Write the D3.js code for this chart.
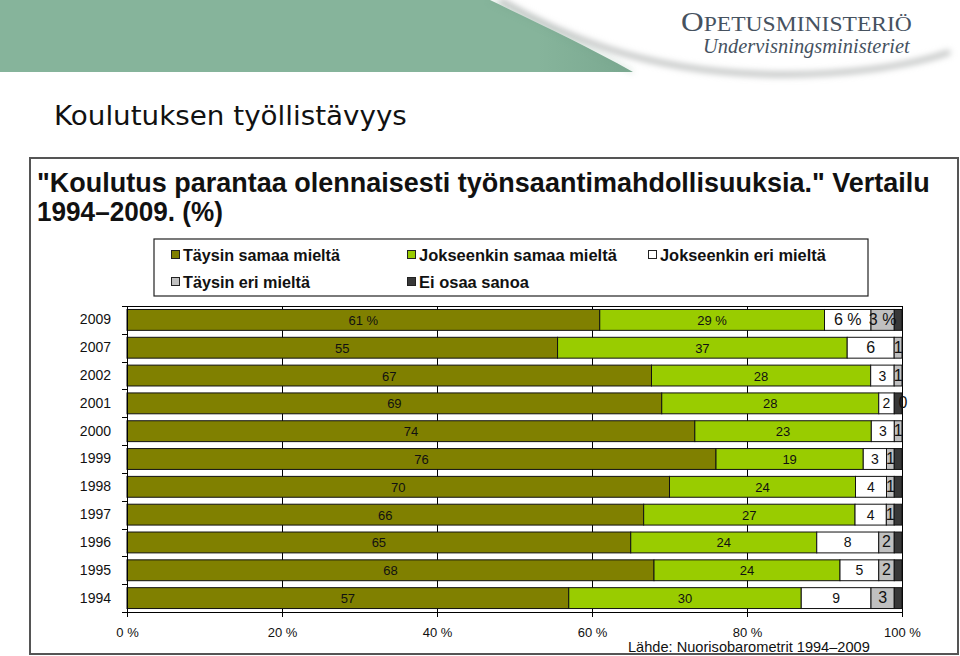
<!DOCTYPE html>
<html><head><meta charset="utf-8">
<script src="https://cdn.jsdelivr.net/npm/d3@7/dist/d3.min.js"></script>
<style>
html,body{margin:0;padding:0;background:#fff;}
svg{display:block;}
</style></head>
<body>
<svg id="c" width="960" height="656"></svg>
<script>
const years = ["2009","2007","2002","2001","2000","1999","1998","1997","1996","1995","1994"];
const seriesNames = ["Täysin samaa mieltä","Jokseenkin samaa mieltä","Jokseenkin eri mieltä","Täysin eri mieltä","Ei osaa sanoa"];
const taysinSamaa     = [61,55,67,69,74,76,70,66,65,68,57];
const jokseenkinSamaa = [29,37,28,28,23,19,24,27,24,24,30];
const jokseenkinEri   = [6,6,3,2,3,3,4,4,8,5,9];
const taysinEri       = [3,1,1,0,1,1,1,1,2,2,3];
const eiOsaa          = [1,0,0,1,0,1,1,1,1,1,1];
const xTicks = [0,0.2,0.4,0.6,0.8,1];
const pageTitle = "Koulutuksen työllistävyys";
const titleLines = ["\"Koulutus parantaa olennaisesti työnsaantimahdollisuuksia.\" Vertailu","1994–2009. (%)"];
const sourceText = "Lähde: Nuorisobarometrit 1994–2009";
const colors = ["#808000","#99cc00","#ffffff","#c0c0c0","#383838"];

const svg = d3.select("#c");
const sans = "'Liberation Sans', Arial, sans-serif";
const narrow = "'Liberation Sans Narrow','Arial Narrow','Liberation Sans',Arial,sans-serif";

// fit a text to a target width by horizontal scaling
function fitText(sel, x0, y0, targetW){
  const w = sel.node().getComputedTextLength();
  const k = w > 0 ? targetW / w : 1;
  sel.attr("x",0).attr("y",0).attr("transform",`translate(${x0},${y0}) scale(${k},1)`);
  return sel;
}

// ---- header ----
const defs = svg.append("defs");
const blur = defs.append("filter").attr("id","blur").attr("x","-10%").attr("y","-50%").attr("width","120%").attr("height","200%");
blur.append("feGaussianBlur").attr("stdDeviation",3);
const gg = defs.append("linearGradient").attr("id","gband").attr("x1","0").attr("x2","1").attr("y1","0").attr("y2","0");
gg.append("stop").attr("offset","0%").attr("stop-color","#86b49b");
gg.append("stop").attr("offset","85%").attr("stop-color","#86b49b");
gg.append("stop").attr("offset","100%").attr("stop-color","#7aa890");

svg.append("path")
  .attr("d","M500,0 C560,35 640,70 760,74 C840,77 910,66 950,52")
  .attr("fill","none").attr("stroke","#b9bcbb").attr("stroke-width",5).attr("filter","url(#blur)");
svg.append("path")
  .attr("d","M0,0 L490,0 C535,22 585,45 633,72 L0,72 Z")
  .attr("fill","url(#gband)");
svg.append("path")
  .attr("d","M490,0 C535,22 585,45 633,72")
  .attr("fill","none").attr("stroke","#6f9c84").attr("stroke-width",2).attr("opacity",0.5).attr("filter","url(#blur)");

const logo = svg.append("text")
  .attr("font-family","'Liberation Serif','DejaVu Serif',serif").attr("fill","#46525f");
logo.append("tspan").attr("font-size",28).text("O");
logo.append("tspan").attr("font-size",21).text("PETUSMINISTERIÖ");
fitText(logo, 681, 31, 231);
const logo2 = svg.append("text")
  .attr("font-family","'Liberation Serif','DejaVu Serif',serif").attr("font-style","italic")
  .attr("font-size",21).attr("fill","#46525f")
  .text("Undervisningsministeriet");
fitText(logo2, 703, 53, 207);

const pt = svg.append("text")
  .attr("font-family","'DejaVu Sans',Verdana,sans-serif").attr("font-size",26).attr("fill","#111")
  .text(pageTitle);
fitText(pt, 54, 125, 353);

// ---- outer box ----
svg.append("rect").attr("x",30).attr("y",158).attr("width",928).attr("height",496)
  .attr("fill","#fff").attr("stroke","#555").attr("stroke-width",2);

const t1 = svg.append("text")
  .attr("font-family",narrow).attr("font-size",28).attr("font-weight","bold").attr("fill","#111")
  .text(titleLines[0]);
fitText(t1, 37, 192, 893);
const t2 = svg.append("text")
  .attr("font-family",narrow).attr("font-size",28).attr("font-weight","bold").attr("fill","#111")
  .text(titleLines[1]);
fitText(t2, 37, 221, 186);

// ---- legend ----
svg.append("rect").attr("x",154).attr("y",239).attr("width",714).attr("height",57)
  .attr("fill","#fff").attr("stroke","#222").attr("stroke-width",1.2);
const legPos = [[171,261,157],[407,261,198],[648,261,166],[171,288,127],[407,288,110]];
seriesNames.forEach((n,i)=>{
  const [lx,ly,tw] = legPos[i];
  svg.append("rect").attr("x",lx+0.5).attr("y",ly-10.5).attr("width",8).attr("height",8)
    .attr("fill",colors[i]).attr("stroke","#222").attr("stroke-width",1);
  const lt = svg.append("text")
    .attr("font-family",narrow).attr("font-size",16).attr("font-weight","bold").attr("fill","#111")
    .text(n);
  fitText(lt, lx+12, ly, tw);
});

// ---- chart ----
const x = d3.scaleLinear().domain([0,1]).range([127,902]);
const y = d3.scaleBand().domain(years).range([306,612]).paddingInner(0.25).paddingOuter(0.125);

const rows = years.map((yr,i)=>({year:yr, s0:taysinSamaa[i], s1:jokseenkinSamaa[i], s2:jokseenkinEri[i], s3:taysinEri[i], s4:eiOsaa[i]}));
const keys = ["s0","s1","s2","s3","s4"];
const stacked = d3.stack().keys(keys).offset(d3.stackOffsetExpand)(rows);

svg.append("line").attr("x1",x(0)).attr("x2",x(1)+1).attr("y1",306.5).attr("y2",306.5).attr("stroke","#000");
svg.append("line").attr("x1",x(1)+0.5).attr("x2",x(1)+0.5).attr("y1",306).attr("y2",612).attr("stroke","#000");
svg.append("g").selectAll("line").data(xTicks.filter(t=>t>0&&t<1)).join("line")
  .attr("x1",d=>Math.round(x(d))+0.5).attr("x2",d=>Math.round(x(d))+0.5)
  .attr("y1",306).attr("y2",612).attr("stroke","#000").attr("stroke-width",1);

const gBars = svg.append("g");
stacked.forEach((layer,li)=>{
  gBars.append("g").selectAll("rect").data(layer).join("rect")
    .attr("x",d=>x(d[0])).attr("width",d=>Math.max(0,x(d[1])-x(d[0])))
    .attr("y",d=>y(d.data.year)).attr("height",y.bandwidth())
    .attr("fill",colors[li]).attr("stroke","#111").attr("stroke-width",1);
});

const gLab = svg.append("g").attr("font-family",sans).attr("fill","#111").attr("text-anchor","middle");
stacked.slice(0,4).forEach((layer,li)=>{
  gLab.append("g").selectAll("text").data(layer).join("text")
    .attr("x",d=>{
      const c = (x(d[0])+x(d[1]))/2;
      const w = x(d[1])-x(d[0]);
      return w < 4 ? Math.max(c, x(1)+1) : c;
    })
    .attr("y",d=>y(d.data.year)+y.bandwidth()/2+5)
    .attr("font-size",d=>{
      const yr = d.data.year;
      if (li<2) return 13;
      if (yr==="2009"||yr==="2007") return 16;
      return li===2?14:16;
    })
    .text(d=>{
      const v = d.data[keys[li]];
      return d.data.year==="2009" ? v+" %" : v;
    });
});

const xAxis = d3.axisBottom(x).tickValues(xTicks).tickSize(5).tickSizeOuter(0)
  .tickFormat(d=>Math.round(d*100)+" %");
const gx = svg.append("g").attr("transform","translate(0,612)").call(xAxis);
gx.attr("font-size",13).attr("font-family",sans);
gx.select(".domain").attr("stroke","#000");
gx.selectAll(".tick line").attr("stroke","#000");
gx.selectAll(".tick text").attr("fill","#111").attr("y",16);

const yAxis = d3.axisLeft(y).tickSize(0).tickPadding(16);
const gy = svg.append("g").attr("transform","translate(127,0)").call(yAxis);
gy.attr("font-size",14).attr("font-family",sans);
gy.select(".domain").attr("stroke","#000");
gy.selectAll(".tick text").attr("fill","#111");
const bounds = d3.range(years.length+1).map(i=>306+i*y.step());
svg.append("g").selectAll("line").data(bounds).join("line")
  .attr("x1",122).attr("x2",127).attr("y1",d=>Math.round(d)+0.5).attr("y2",d=>Math.round(d)+0.5)
  .attr("stroke","#000");

const src = svg.append("text")
  .attr("font-family",sans).attr("font-size",14).attr("fill","#111").text(sourceText);
fitText(src, 628, 652, 242);
</script>
</body></html>
